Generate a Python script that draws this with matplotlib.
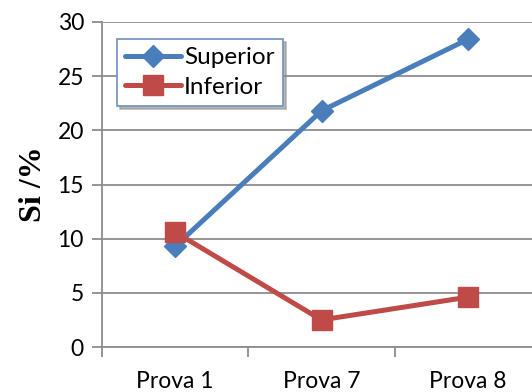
import matplotlib
matplotlib.use("Agg")
import matplotlib.pyplot as plt

categories = ["Prova 1", "Prova 7", "Prova 8"]
superior = [9.3, 21.8, 28.4]
inferior = [10.6, 2.5, 4.6]
yticks = [0, 5, 10, 15, 20, 25, 30]

blue = "#4A7EBB"
red = "#BE4B48"
grid = "#8C8C8C"

fig = plt.figure(figsize=(5.32, 3.92), dpi=100)
W, H = 532, 392
left, right, top, bottom = 102, 541, 22, 347
ax = fig.add_axes([left / W, 1 - bottom / H, (right - left) / W, (bottom - top) / H])

x = list(range(len(categories)))
ax.plot(x, superior, color=blue, lw=3.6, marker="D", ms=11, mec=blue, mfc=blue,
        label="Superior", zorder=3, solid_capstyle="round")
ax.plot(x, inferior, color=red, lw=3.6, marker="s", ms=14, mec=red, mfc=red,
        label="Inferior", zorder=4, solid_capstyle="round")

ax.set_xlim(-0.5, len(categories) - 0.5)
ax.set_ylim(0, 30)
ax.set_yticks(yticks)
ax.set_yticklabels([str(v) for v in yticks])
ax.set_xticks(x)
ax.set_xticklabels(categories)
ax.set_xticks([i - 0.5 for i in range(len(categories) + 1)], minor=True)

font = "Lato"
fs = 16.5
for lab in ax.get_yticklabels() + ax.get_xticklabels():
    lab.set_fontfamily(font)
    lab.set_fontsize(fs)

ax.yaxis.grid(True, color=grid, lw=1.3)
ax.set_axisbelow(True)
for s in ["top", "right"]:
    ax.spines[s].set_visible(False)
for s in ["left", "bottom"]:
    ax.spines[s].set_color(grid)
    ax.spines[s].set_linewidth(1.3)
ax.tick_params(axis="y", length=7, width=1.3, color=grid, pad=6)
ax.tick_params(axis="x", which="major", length=0, pad=17)
ax.tick_params(axis="x", which="minor", length=7, width=1.3, color=grid)

ax.set_ylabel("Si /%", fontfamily="Liberation Serif", fontweight="bold", fontsize=23, labelpad=7)

leg = ax.legend(loc="upper left", bbox_to_anchor=(0.034, 0.948), borderaxespad=0,
                frameon=True, shadow={"color": "0.55", "alpha": 0.6},
                prop={"family": font, "size": 17.5}, handlelength=2.3, handletextpad=0.1,
                borderpad=0.35, labelspacing=0.35, fancybox=False, framealpha=1)
leg.get_frame().set_edgecolor("#6F8FBF")
leg.get_frame().set_linewidth(1.2)

fig.savefig("out.png", dpi=100)
